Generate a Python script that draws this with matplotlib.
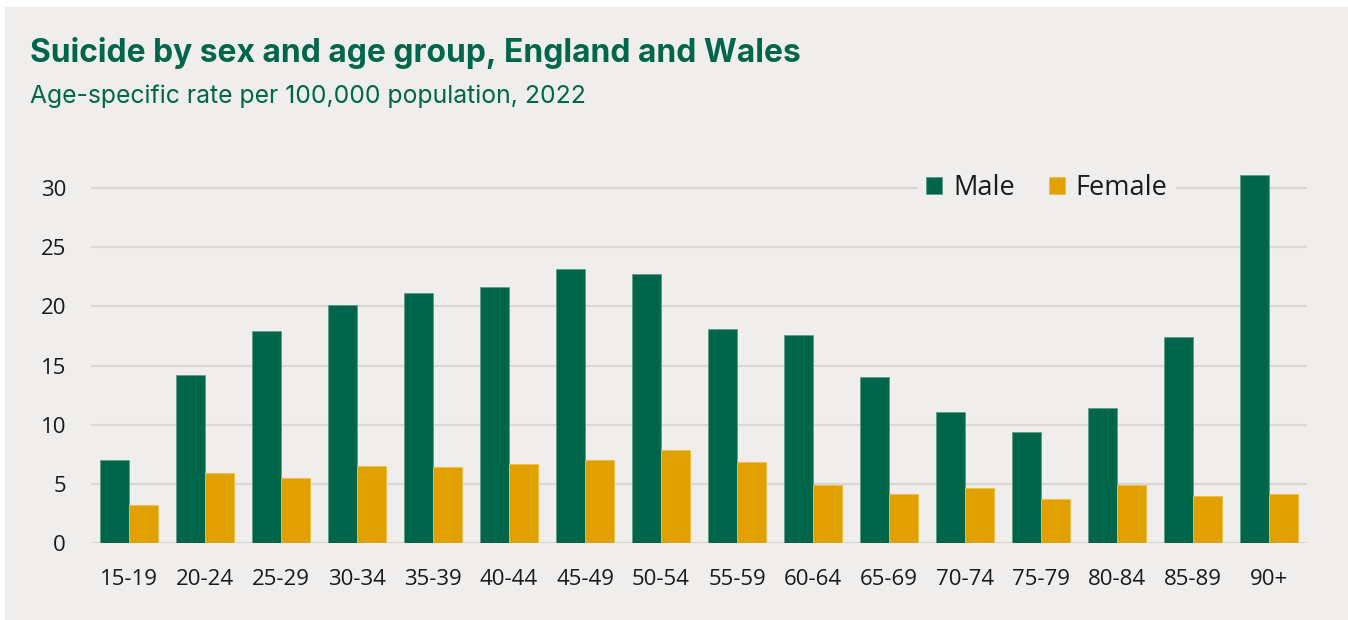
import numpy as np
import matplotlib.pyplot as plt
from matplotlib.patches import Rectangle

# Age-specific suicide rates per 100,000, England and Wales, 2022
age_groups = ["15-19", "20-24", "25-29", "30-34", "35-39", "40-44", "45-49", "50-54",
              "55-59", "60-64", "65-69", "70-74", "75-79", "80-84", "85-89", "90+"]
male = [7.0, 14.2, 17.9, 20.1, 21.1, 21.6, 23.1, 22.7,
        18.1, 17.6, 14.0, 11.1, 9.4, 11.4, 17.4, 31.1]
female = [3.2, 5.9, 5.5, 6.5, 6.4, 6.7, 7.0, 7.9,
          6.9, 4.9, 4.2, 4.7, 3.7, 4.9, 4.0, 4.2]
y_ticks = [0, 5, 10, 15, 20, 25, 30]

GREEN = "#00664a"
GOLD = "#e0a000"
PANEL = "#efeeec"
GRID = "#d9d8d6"
TEXT = "#1a1a1a"


def main():
    fig = plt.figure(figsize=(13.48, 6.2), dpi=100)
    fig.patch.set_facecolor("white")
    # grey card behind everything
    fig.add_artist(Rectangle((5 / 1348, 0), 1 - 5 / 1348, 1 - 7 / 620,
                             transform=fig.transFigure, facecolor=PANEL,
                             edgecolor="none", zorder=0))

    ax = fig.add_axes([0.0675, 0.1237, 0.9021, 0.6118])
    ax.set_facecolor(PANEL)
    ax.patch.set_alpha(0)

    x = np.arange(len(age_groups))
    w = 0.385
    ax.bar(x - w / 2, male, width=w, color=GREEN, edgecolor="#5f9c88",
           linewidth=0.6, label="Male", zorder=3)
    ax.bar(x + w / 2, female, width=w, color=GOLD, edgecolor="#f0c040",
           linewidth=0.6, label="Female", zorder=3)

    ax.set_xlim(-0.5, len(age_groups) - 0.5)
    ax.set_ylim(0, 32)
    ax.set_yticks(y_ticks)
    ax.set_xticks(x)
    ax.set_xticklabels(age_groups)
    ax.yaxis.grid(True, color=GRID, linewidth=1.6, zorder=1)
    ax.set_axisbelow(True)
    for s in ax.spines.values():
        s.set_visible(False)
    ax.tick_params(axis="both", length=0, labelsize=16, colors=TEXT,
                   labelfontfamily="Open Sans")
    ax.tick_params(axis="y", pad=18)
    ax.tick_params(axis="x", pad=18.5)

    leg = ax.legend(loc="center", bbox_to_anchor=(0.786, 0.937), ncol=2,
                    frameon=True, facecolor=PANEL, edgecolor="none", framealpha=1,
                    prop={"family": "Open Sans", "size": 19.5}, handlelength=0.6,
                    handleheight=0.6, handletextpad=0.4, columnspacing=1.25,
                    borderpad=0.3)
    for t in leg.get_texts():
        t.set_color(TEXT)
    leg.set_zorder(5)

    fig.text(30 / 1348, 1 - 62 / 620, "Suicide by sex and age group, England and Wales",
             color=GREEN, fontsize=22.9, fontweight="bold", family="Inter",
             va="baseline", ha="left")
    fig.text(30 / 1348, 1 - 103 / 620, "Age-specific rate per 100,000 population, 2022",
             color=GREEN, fontsize=17.8, family="Inter", va="baseline", ha="left")

    fig.savefig("out.png", dpi=100, facecolor=fig.get_facecolor())


if __name__ == "__main__":
    main()
